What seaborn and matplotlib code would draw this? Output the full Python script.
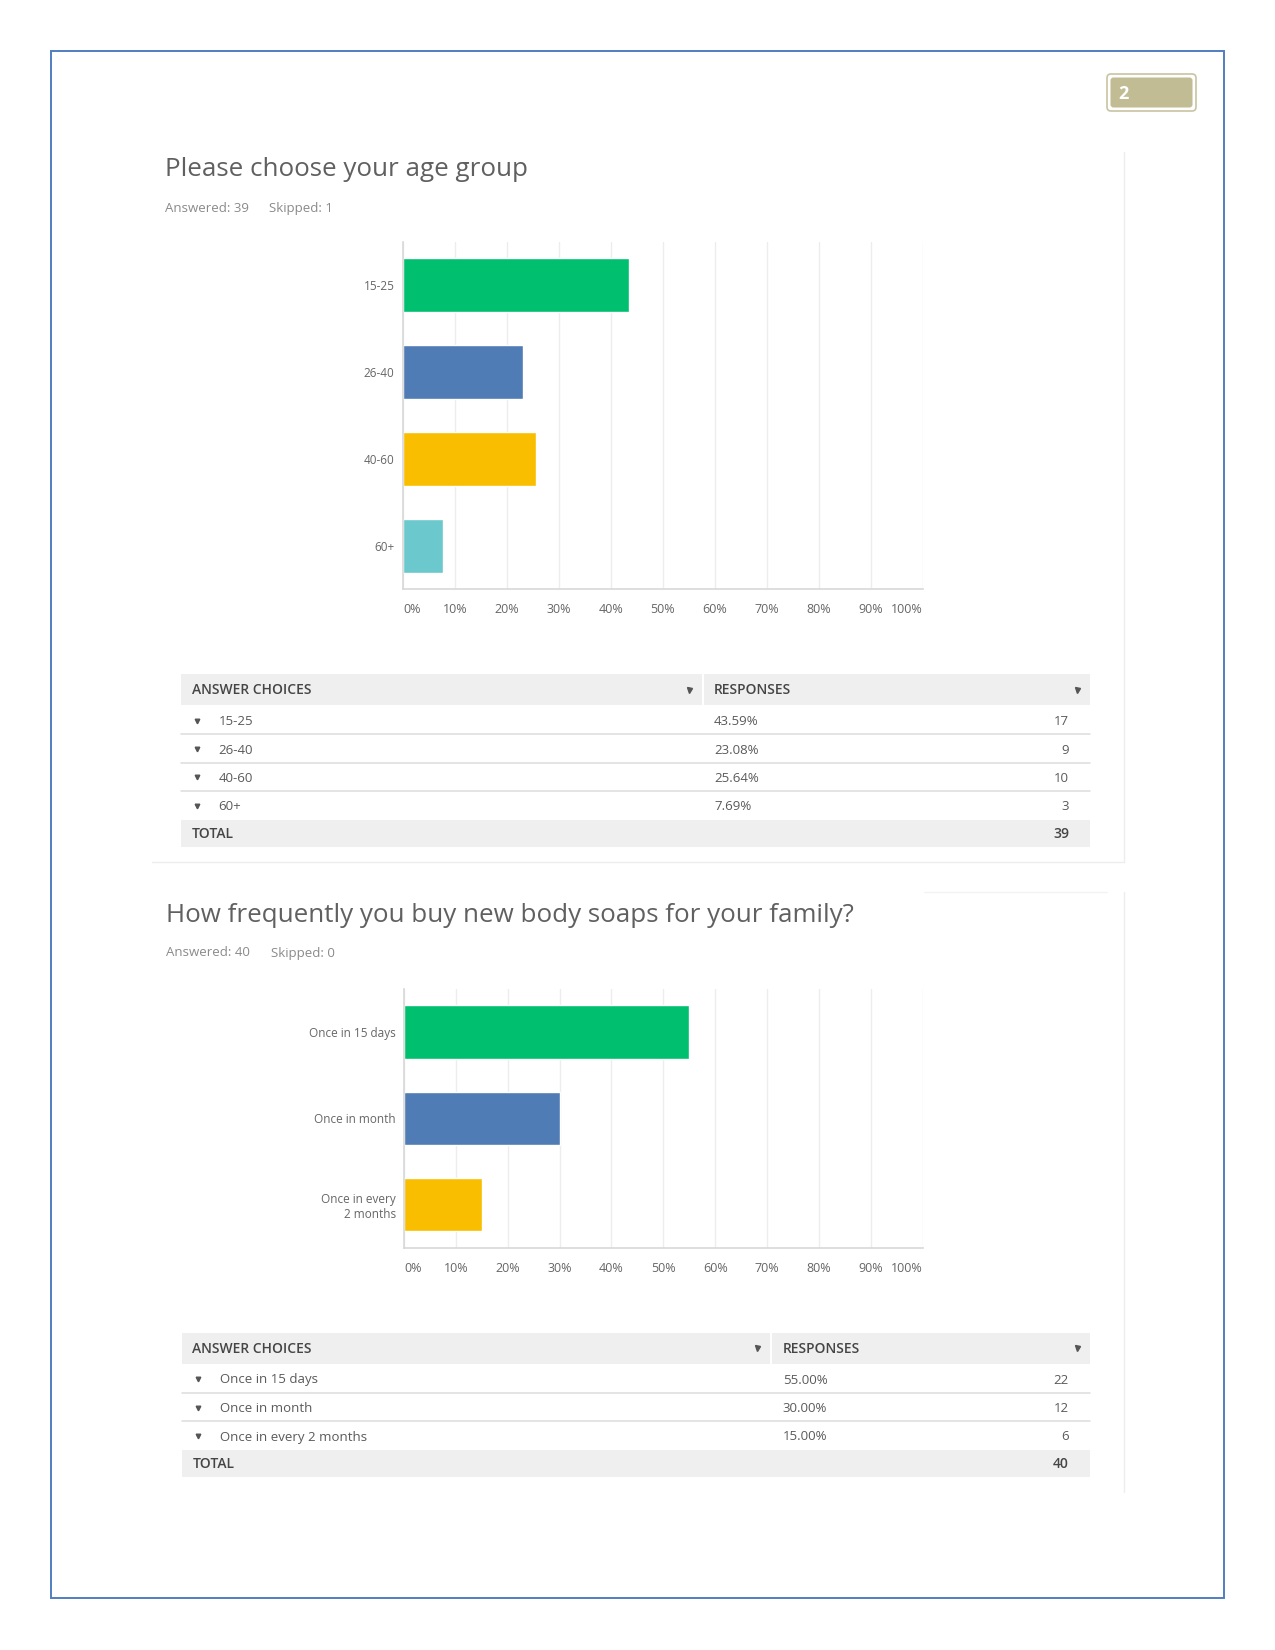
import matplotlib
matplotlib.use('Agg')
import matplotlib.pyplot as plt
import matplotlib.patches as mpatches
import seaborn as sns
import pandas as pd

# ------------------------------------------------------------
# DATA
# ------------------------------------------------------------
q1_title = 'Please choose your age group'
q1_answered = 39
q1_skipped = 1
q1_choices = ['15-25', '26-40', '40-60', '60+']
q1_percent = [43.59, 23.08, 25.64, 7.69]
q1_counts = [17, 9, 10, 3]

q2_title = 'How frequently you buy new body soaps for your family?'
q2_answered = 40
q2_skipped = 0
q2_choices = ['Once in 15 days', 'Once in month', 'Once in every 2 months']
q2_labels = ['Once in 15 days', 'Once in month', 'Once in every\n2 months']
q2_percent = [55.00, 30.00, 15.00]
q2_counts = [22, 12, 6]

x_ticks = list(range(0, 101, 10))
page_number = '2'

# ------------------------------------------------------------
# STYLE
# ------------------------------------------------------------
sns.set_style('white')
plt.rcParams['font.family'] = ['Open Sans', 'DejaVu Sans']

GREEN = '#00BF6F'
BLUE = '#507CB6'
YELLOW = '#F9BE00'
TEAL = '#6BC8CD'
PALETTE = [GREEN, BLUE, YELLOW, TEAL]
TXT = '#5A5A5A'
LIGHT = '#8A8A8A'
HDR_BG = '#EFEFEF'

W, H = 1275, 1650
fig = plt.figure(figsize=(W / 100, H / 100), dpi=100)
fig.patch.set_facecolor('white')

# pixel-space overlay
bg = fig.add_axes([0, 0, 1, 1], zorder=0)
bg.set_xlim(0, W)
bg.set_ylim(H, 0)
bg.axis('off')


def px_axes(l, t, r, b):
    return fig.add_axes([l / W, 1 - b / H, (r - l) / W, (b - t) / H], zorder=2)


# page border
bg.add_patch(mpatches.Rectangle((50.5, 50.5), 1173, 1547.5, fill=False,
                                edgecolor='#4F7EC0', lw=1.4))

# page number badge
bg.add_patch(mpatches.FancyBboxPatch((1107, 74), 89, 37,
                                     boxstyle='round,pad=0,rounding_size=4',
                                     fc='white', ec='#C9C3A2', lw=1.2))
bg.add_patch(mpatches.FancyBboxPatch((1110.5, 77.5), 82, 30,
                                     boxstyle='round,pad=0,rounding_size=3',
                                     fc='#C1BC93', ec='none'))
bg.text(1118, 94, page_number, color='white', fontsize=13, fontweight='bold',
        va='center', ha='left')

# faint panel edges (screenshot borders)
bg.plot([1123.5, 1123.5], [152, 862], color='#EDEDED', lw=1)
bg.plot([152, 1123.5], [862, 862], color='#EDEDED', lw=1)
bg.plot([1123.5, 1123.5], [892, 1492], color='#EDEDED', lw=1)
bg.plot([924, 1107], [892, 892], color='#F3F3F3', lw=1)


def header(x, y_title, y_meta, title, answered, skipped, skip_x):
    bg.text(x, y_title, title, fontsize=18.7, color='#606060', va='center', ha='left')
    bg.text(x, y_meta, f'Answered: {answered}', fontsize=9.5, color=LIGHT,
            va='center', ha='left')
    bg.text(skip_x, y_meta, f'Skipped: {skipped}', fontsize=9.5, color=LIGHT,
            va='center', ha='left')


def bar_chart(rect, labels, values, colors):
    ax = px_axes(*rect)
    ax.patch.set_alpha(0)
    df = pd.DataFrame({'label': labels, 'pct': values})
    sns.barplot(data=df, x='pct', y='label', hue='label', palette=colors,
                orient='h', width=0.62, legend=False, saturation=1, ax=ax)
    ax.set_xlim(0, 100)
    ax.set_ylim(len(labels) - 0.5, -0.5)
    ax.set_xticks(x_ticks)
    ax.set_xticklabels([f'{v}%' for v in x_ticks])
    tl = ax.get_xticklabels()
    tl[0].set_ha('left')
    tl[-1].set_ha('right')
    ax.xaxis.grid(True, color='#EDEDED', lw=1)
    ax.set_axisbelow(True)
    ax.set_xlabel('')
    ax.set_ylabel('')
    for s in ['top', 'right']:
        ax.spines[s].set_visible(False)
    for s in ['left', 'bottom']:
        ax.spines[s].set_color('#D8D8D8')
        ax.spines[s].set_linewidth(1.2)
    ax.tick_params(axis='x', length=0, pad=10, labelsize=9, labelcolor='#666666')
    ax.tick_params(axis='y', length=0, pad=6, labelsize=8.5, labelcolor='#666666')
    for t in ax.get_yticklabels():
        t.set_multialignment('right')
    return ax


def table(x0, x1, hdr_top, hdr_bot, div_x, resp_x, row_ys, line_ys,
          tot_top, tot_bot, choices, pcts, counts, total):
    # header
    bg.add_patch(mpatches.Rectangle((x0, hdr_top), div_x - x0 - 1, hdr_bot - hdr_top,
                                    fc=HDR_BG, ec='none'))
    bg.add_patch(mpatches.Rectangle((div_x + 1, hdr_top), x1 - div_x - 1, hdr_bot - hdr_top,
                                    fc=HDR_BG, ec='none'))
    hy = (hdr_top + hdr_bot) / 2 + 1
    bg.text(x0 + 10.5, hy, 'ANSWER CHOICES', fontsize=10, color='#454545',
            fontweight='semibold', va='center', ha='left')
    bg.text(resp_x, hy, 'RESPONSES', fontsize=10, color='#454545',
            fontweight='semibold', va='center', ha='left')
    bg.plot([div_x - 14, x1 - 13], [hy - 1, hy - 1], ls='none', marker='v', ms=3.6,
            color='#555555')
    # rows
    for y, c, p, n in zip(row_ys, choices, pcts, counts):
        bg.plot([x0 + 15.5], [y], marker='v', ms=3.3, color='#555555')
        bg.text(x0 + 37.5, y + 1, c, fontsize=9.5, color=TXT, va='center', ha='left')
        bg.text(resp_x, y + 1, f'{p:.2f}%', fontsize=9.5, color=TXT, va='center', ha='left')
        bg.text(x1 - 21, y + 1, f'{n}', fontsize=9.5, color=TXT, va='center', ha='right')
    for y in line_ys:
        bg.plot([x0, x1], [y, y], color='#DCDCDC', lw=1.1)
    # total
    bg.add_patch(mpatches.Rectangle((x0, tot_top), x1 - x0, tot_bot - tot_top,
                                    fc=HDR_BG, ec='none'))
    ty = (tot_top + tot_bot) / 2 + 1
    bg.text(x0 + 10.5, ty, 'TOTAL', fontsize=10, color='#454545',
            fontweight='semibold', va='center', ha='left')
    bg.text(x1 - 21, ty, f'{total}', fontsize=10, color='#454545',
            fontweight='semibold', va='center', ha='right')


# ------------------------------------------------------------
# QUESTION 1
# ------------------------------------------------------------
header(165, 169.5, 208.5, q1_title, q1_answered, q1_skipped, 269)
bar_chart((403, 242, 922.6, 589), q1_choices, q1_percent, PALETTE[:4])
table(181, 1090, 674, 705, 703, 714,
      [720.6, 749, 777.4, 805.8], [734, 763, 791],
      819.5, 847, q1_choices, q1_percent, q1_counts, sum(q1_counts))

# ------------------------------------------------------------
# QUESTION 2
# ------------------------------------------------------------
header(166, 915.5, 953, q2_title, q2_answered, q2_skipped, 271)
bar_chart((404, 989, 922.6, 1247.7), q2_labels, q2_percent, PALETTE[:3])
table(182, 1090, 1333, 1363.5, 771, 782.7,
      [1379, 1407.6, 1436], [1393, 1421],
      1449.7, 1477, q2_choices, q2_percent, q2_counts, sum(q2_counts))

plt.savefig('out.png', dpi=100, facecolor='white')
